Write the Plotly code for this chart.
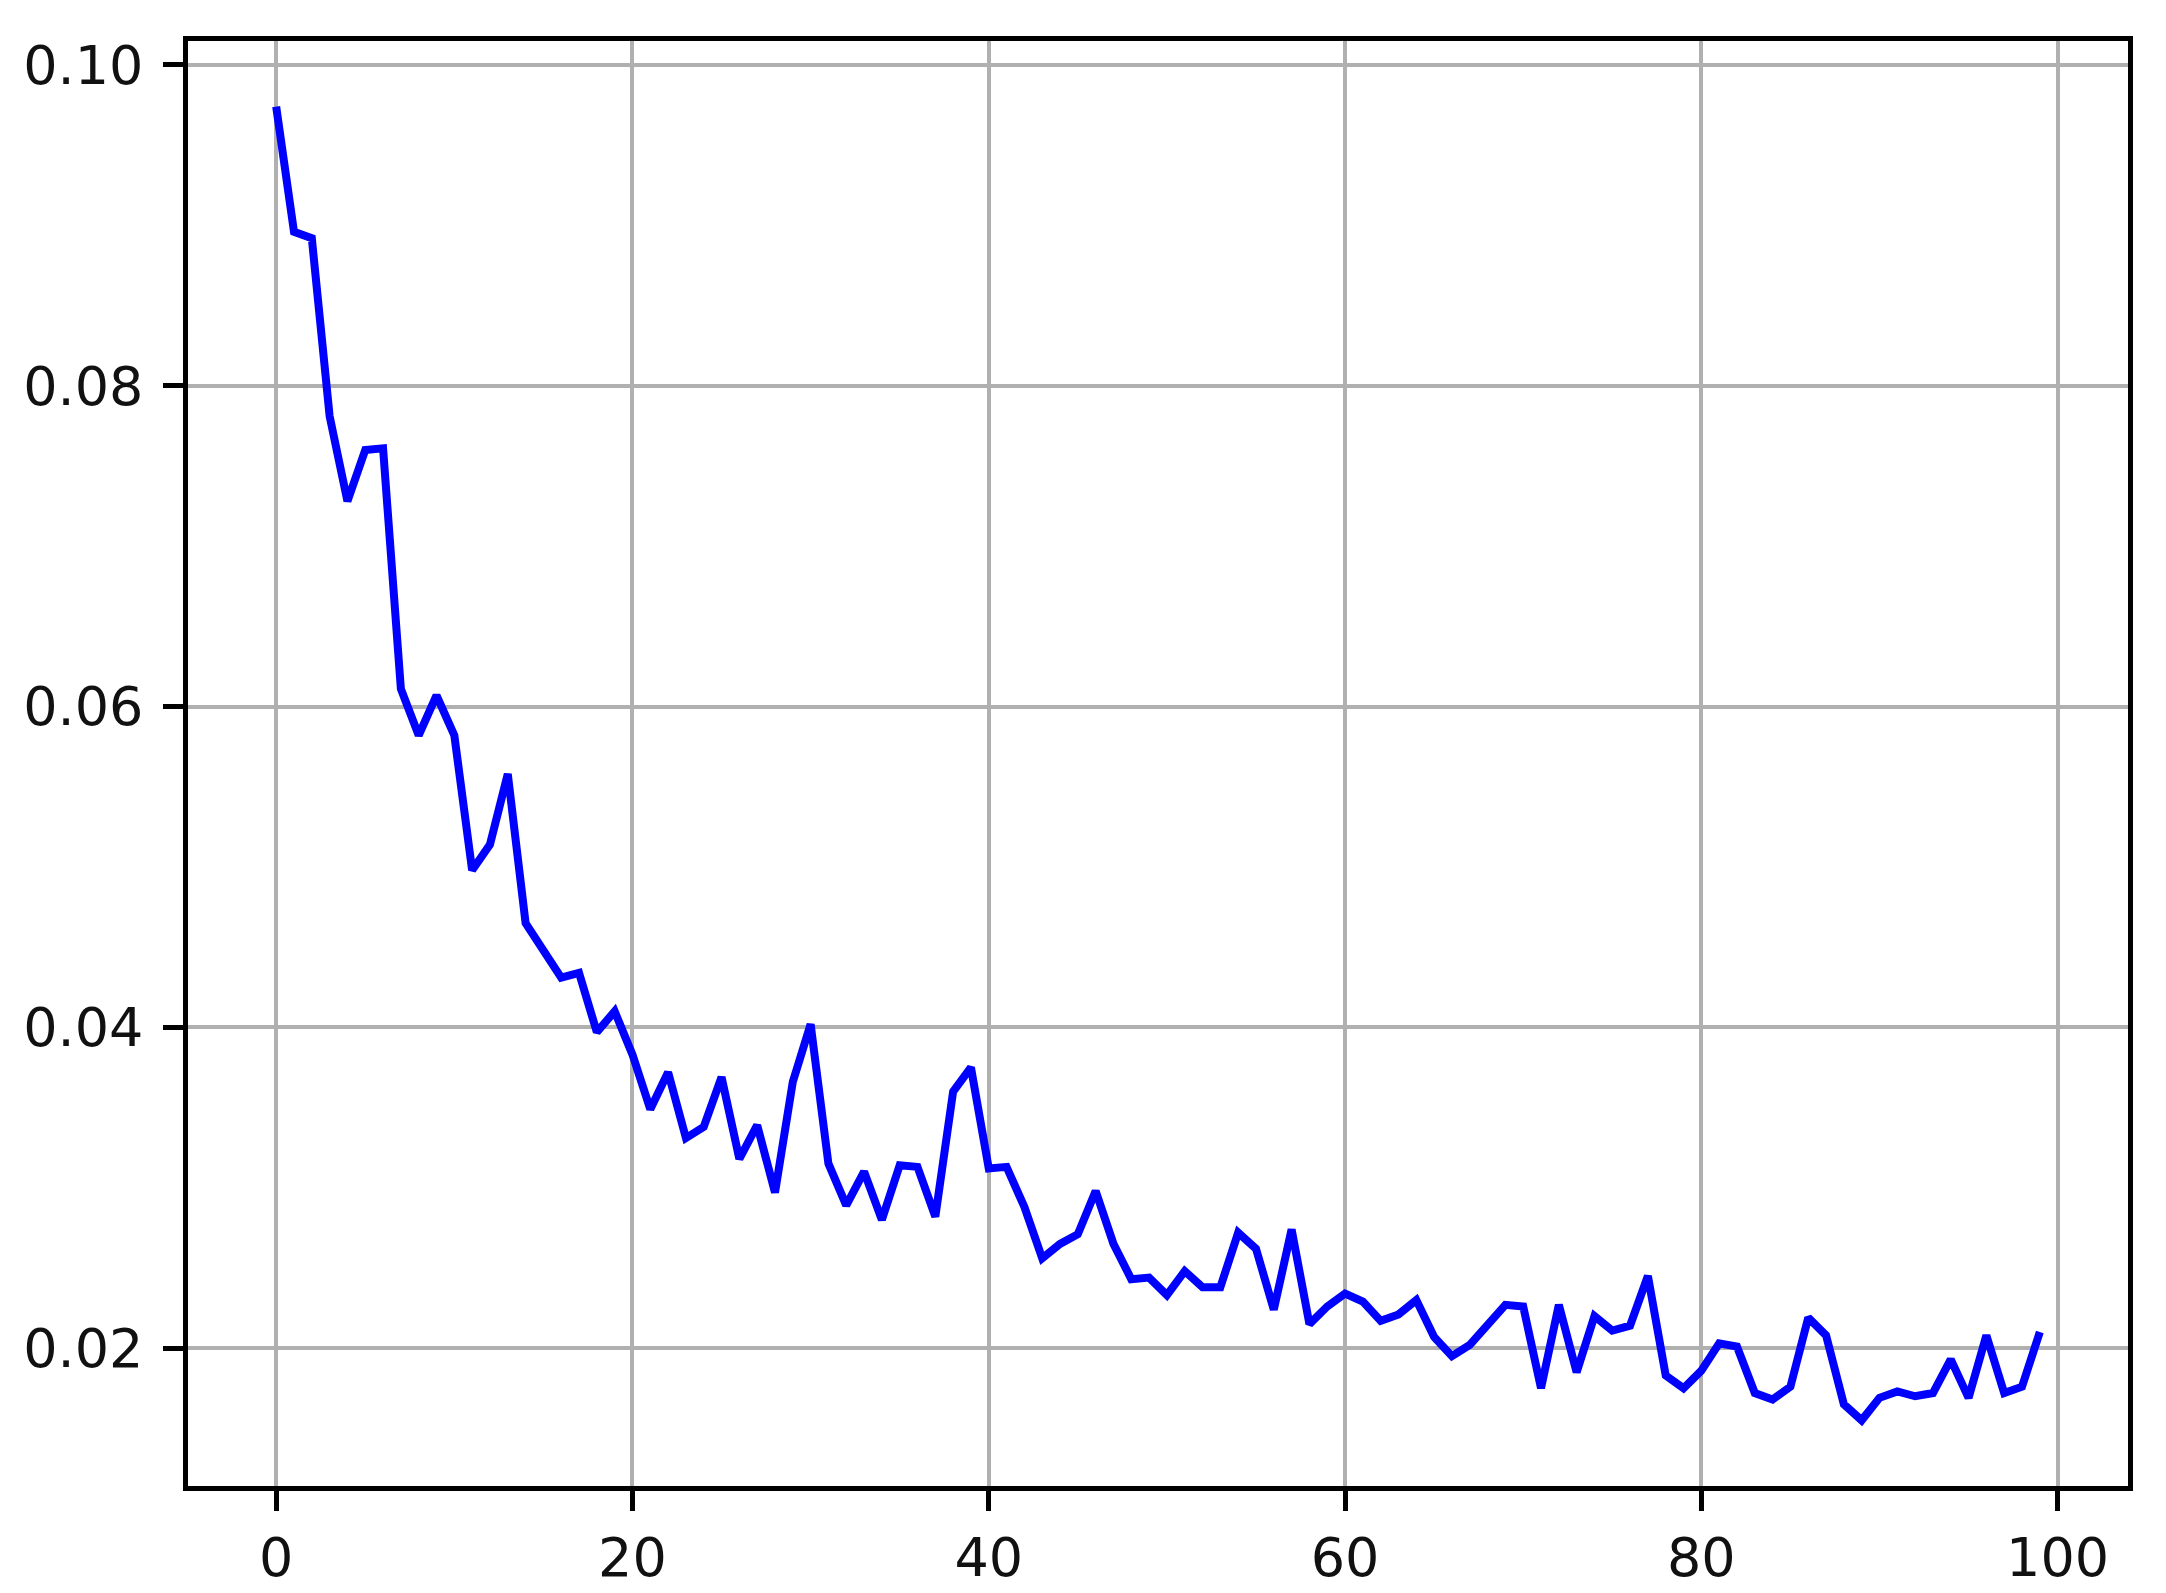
import numpy as np
import plotly.graph_objs as go

epochs = list(range(100))
loss = [0.0974, 0.0896, 0.0892, 0.0781, 0.0728, 0.0760, 0.0761, 0.0611, 0.0582, 0.0607,
        0.0582, 0.0498, 0.0514, 0.0558, 0.0465, 0.0447, 0.0431, 0.0434, 0.0397, 0.0410,
        0.0383, 0.0349, 0.0372, 0.0331, 0.0338, 0.0369, 0.0318, 0.0339, 0.0297, 0.0366,
        0.0402, 0.0315, 0.0289, 0.0310, 0.0280, 0.0314, 0.0313, 0.0282, 0.0360, 0.0375,
        0.0312, 0.0313, 0.0288, 0.0256, 0.0265, 0.0271, 0.0298, 0.0265, 0.0243, 0.0244,
        0.0233, 0.0248, 0.0238, 0.0238, 0.0272, 0.0262, 0.0224, 0.0274, 0.0215, 0.0226,
        0.0234, 0.0229, 0.0217, 0.0221, 0.0230, 0.0207, 0.0195, 0.0202, 0.0215, 0.0227,
        0.0226, 0.0175, 0.0227, 0.0185, 0.0220, 0.0211, 0.0214, 0.0245, 0.0183, 0.0175,
        0.0186, 0.0203, 0.0201, 0.0172, 0.0168, 0.0176, 0.0219, 0.0208, 0.0165, 0.0155,
        0.0169, 0.0173, 0.0170, 0.0172, 0.0193, 0.0169, 0.0208, 0.0172, 0.0176, 0.0210]

x_ticks = [0, 20, 40, 60, 80, 100]
y_ticks = [0.02, 0.04, 0.06, 0.08, 0.10]

fig = go.Figure()
fig.add_trace(go.Scatter(x=epochs, y=loss, mode='lines',
                         line=dict(color='#0000ff', width=8)))

# matplotlib-like 5% margins around the data
x_pad = (max(epochs) - min(epochs)) * 0.05
y_pad = (max(loss) - min(loss)) * 0.05

axis_common = dict(showgrid=True, gridcolor='#b0b0b0', gridwidth=4,
                   zeroline=False, showline=True, linecolor='black', linewidth=4.5,
                   mirror=True, ticks='outside', ticklen=20, tickwidth=4.5,
                   tickcolor='black', automargin=False,
                   tickfont=dict(family='DejaVu Sans', size=54, color='#111111'))

fig.update_layout(
    width=2166, height=1593,
    margin=dict(l=188, r=38, t=41, b=107),
    paper_bgcolor='white', plot_bgcolor='white',
    showlegend=False,
    xaxis=dict(range=[min(epochs) - x_pad, max(epochs) + x_pad],
               tickvals=x_ticks, ticklabelstandoff=0, **axis_common),
    yaxis=dict(range=[min(loss) - y_pad, max(loss) + y_pad],
               tickvals=y_ticks, tickformat='.2f', ticklabelstandoff=9,
               **axis_common),
)

# drop the default page margin so the figure sits at the window origin
fig.write_html("out.html", config={'displayModeBar': False},
               post_script="document.body.style.margin='0';"
                           "document.body.style.overflow='hidden';")
